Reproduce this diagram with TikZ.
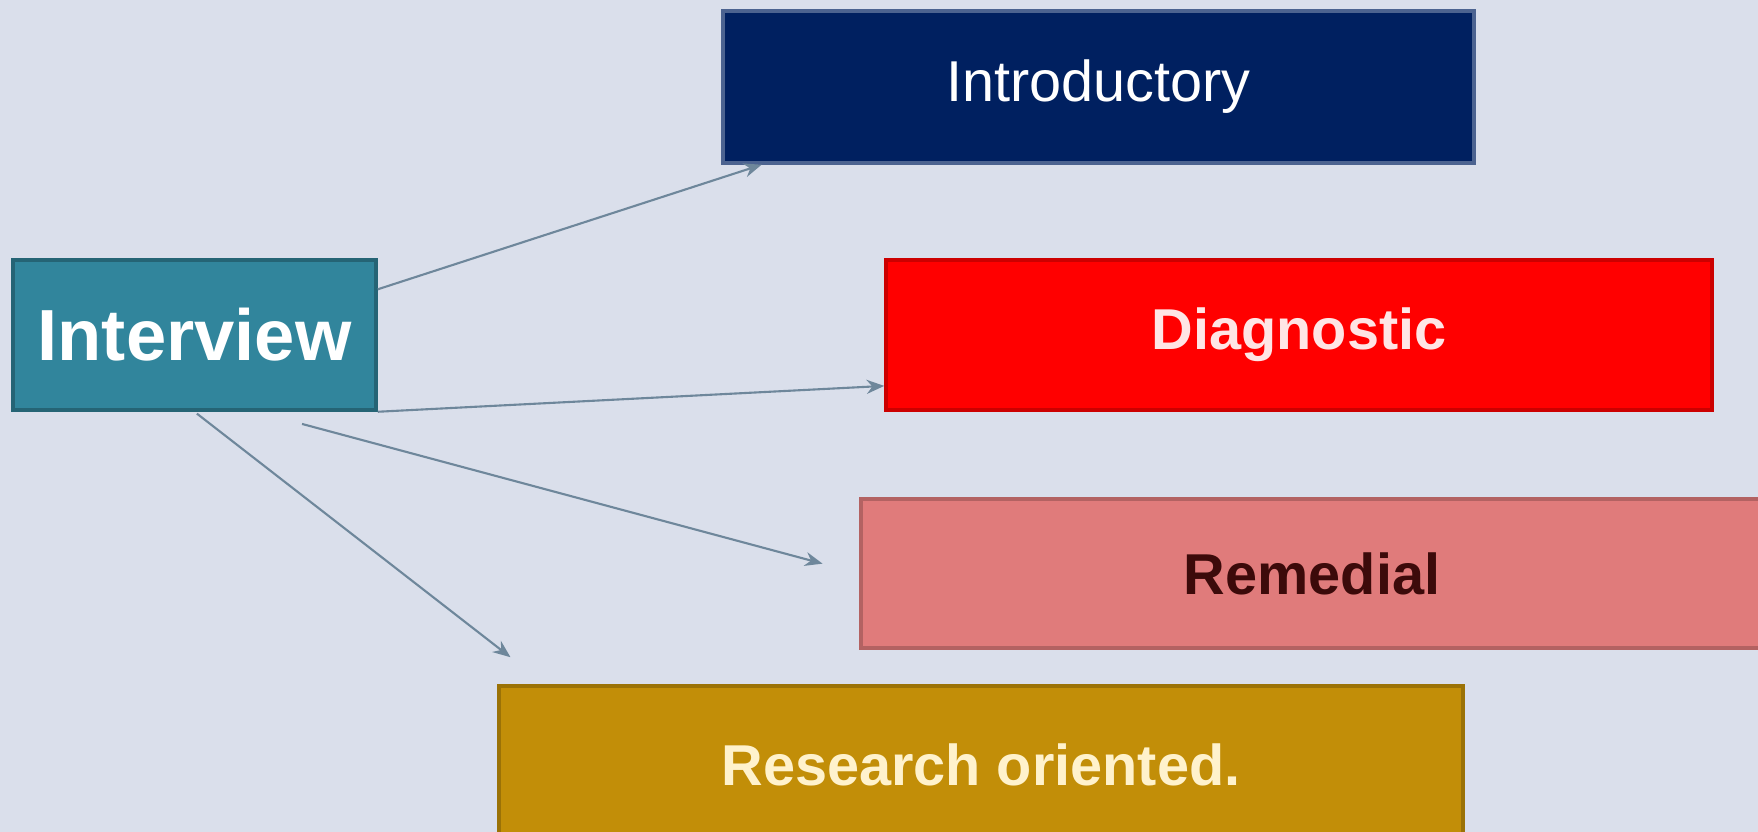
\documentclass[tikz,border=0pt]{standalone}
\usepackage{fontspec}
\setmainfont{Liberation Sans}
\usetikzlibrary{arrows.meta, calc}

\definecolor{bgcol}{RGB}{218,223,235}
\definecolor{introcol}{RGB}{0,32,96}
\definecolor{ivcol}{RGB}{49,133,156}
\definecolor{dgcol}{RGB}{255,0,0}
\definecolor{rmcol}{RGB}{224,123,123}
\definecolor{rscol}{RGB}{194,142,8}
\definecolor{linkcol}{RGB}{110,135,155}

\tikzset{
    box/.style={rectangle, inner sep=0pt, line width=1pt},
    boxtext/.style={font=\fontsize{16.4}{19}\selectfont\bfseries},
    link/.style={draw=linkcol, line width=0.6pt, -{Stealth[length=5pt,width=4pt]}}
}

\begin{document}
\begin{tikzpicture}
        \useasboundingbox (0,0) rectangle (17.58,-8.32);
        \clip (0,0) rectangle (17.58,-8.32);
        \fill[bgcol] (0,0) rectangle (17.58,-8.32);

        % the five boxes
        \node[box, fill=introcol, draw=introcol!70!white, minimum width=7.51cm, minimum height=1.52cm,
              text=white, font=\fontsize{16.4}{19}\selectfont] (intro) at (10.985,-0.87) {Introductory};
        \node[box, fill=ivcol, draw=ivcol!75!black, minimum width=3.63cm, minimum height=1.50cm,
              text=white, font=\fontsize{20.6}{24}\selectfont\bfseries] (iv) at (1.945,-3.35) {Interview};
        \node[box, boxtext, fill=dgcol, draw=dgcol!80!black, minimum width=8.26cm, minimum height=1.50cm,
              text=red!10!white] (dg) at (12.99,-3.35) {Diagnostic};
        \node[box, boxtext, fill=rmcol, draw=rmcol!80!black, minimum width=9.02cm, minimum height=1.49cm,
              text={rgb,255:red,60;green,10;blue,10}] (rm) at (13.12,-5.735) {Remedial};
        \node[box, boxtext, fill=rscol, draw=rscol!80!black, minimum width=9.64cm, minimum height=1.58cm,
              text={rgb,255:red,255;green,242;blue,204}] (rs) at (9.81,-7.65) {Research oriented.};

        % connectors
        \draw[link] (iv.14) -- (intro.193);
        \draw[link] (iv.south east) -- (dg.187);
        \draw[link, shorten <=0.47cm, shorten >=0.38cm] (iv.-51) -- (rm.west);
        \draw[link, shorten <=0.03cm, shorten >=0.44cm] (iv.south) -- ($(rs.north west)+(0.48,0)$);

    \end{tikzpicture}
\end{document}
